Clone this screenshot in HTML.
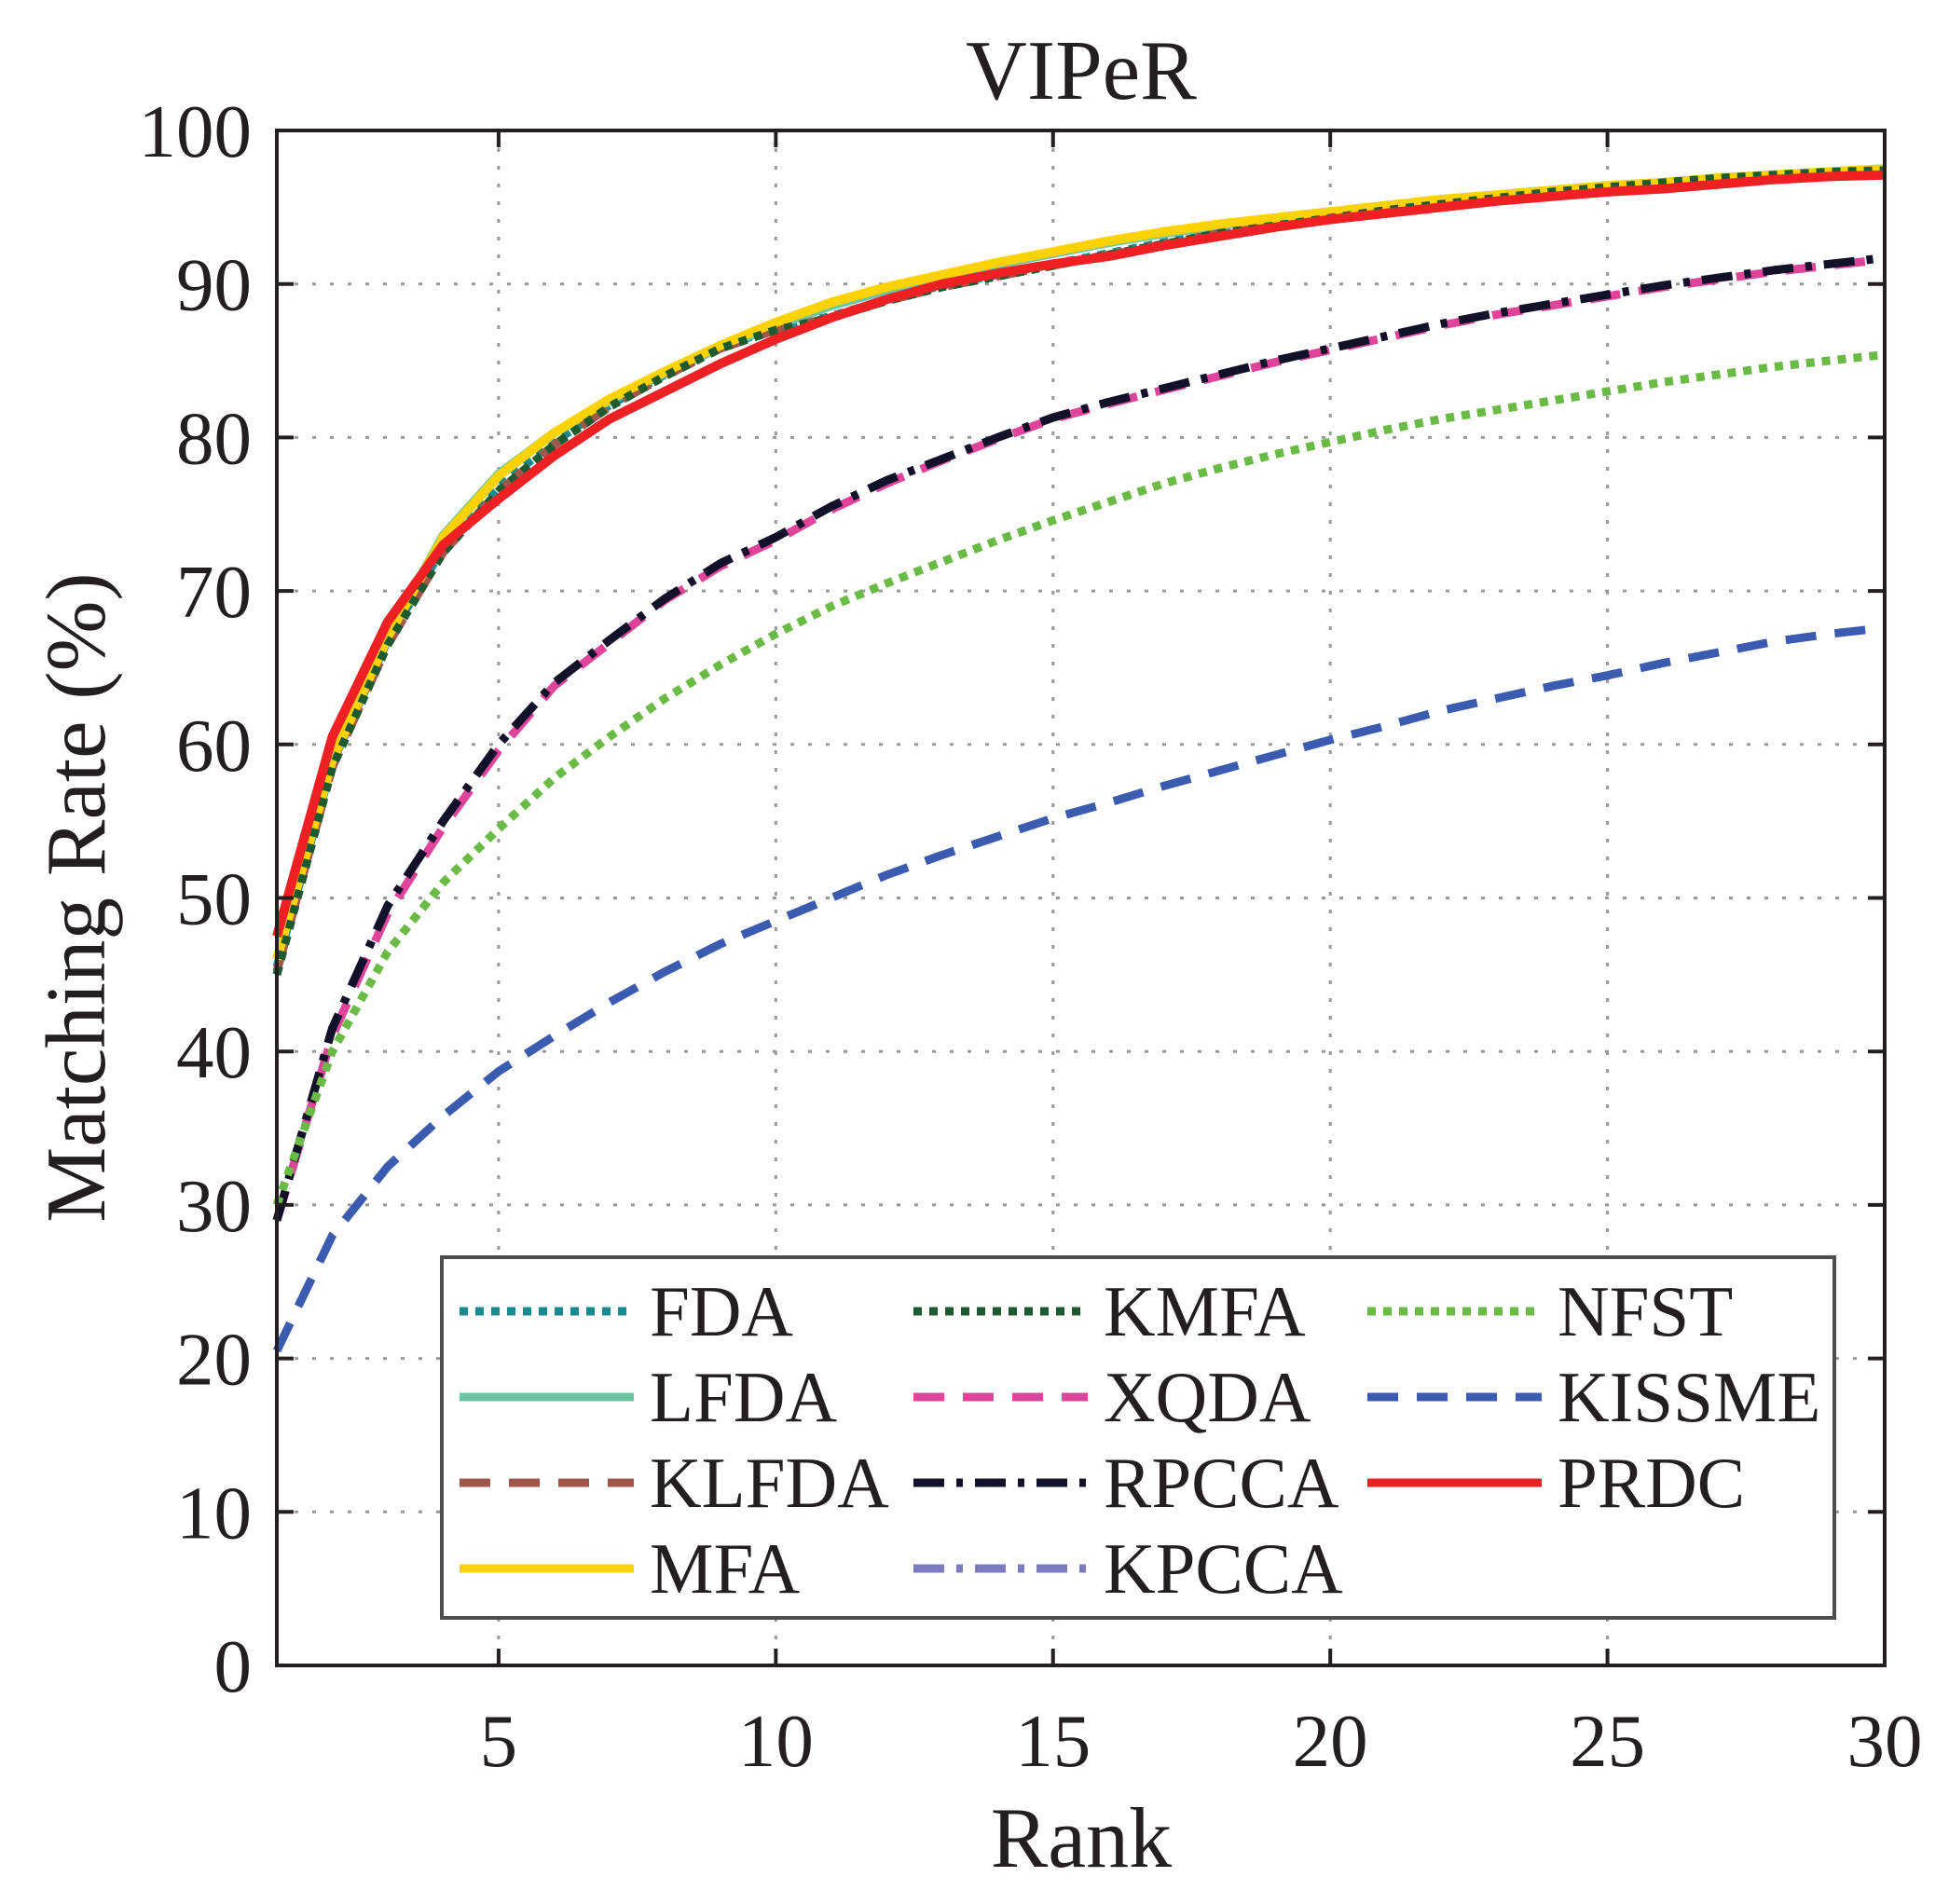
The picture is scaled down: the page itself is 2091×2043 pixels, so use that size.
<!DOCTYPE html>
<html><head><meta charset="utf-8"><style>
html,body{margin:0;padding:0;background:#fff;}
svg{display:block;font-family:"Liberation Serif",serif;}
</style></head><body>
<svg id="chart" width="2091" height="2043" viewBox="0 0 2091 2043" xmlns="http://www.w3.org/2000/svg"></svg>
<script>
const ranks=[1,2,3,4,5,6,7,8,9,10,11,12,13,14,15,16,17,18,19,20,21,22,23,24,25,26,27,28,29,30];
const xTicks=[5,10,15,20,25,30];
const yTicks=[0,10,20,30,40,50,60,70,80,90,100];
const fdaVals=[45.5,58.8,66.8,72.8,76.8,79.7,82.1,84.1,85.9,87.1,87.9,89,89.9,90.6,91.3,92,92.7,93.3,93.9,94.4,94.8,95.2,95.6,96,96.3,96.6,96.9,97.1,97.3,97.4];
const lfdaVals=[46,59,67,73.6,77.6,80.3,82.4,84.2,85.9,87.3,88.6,89.6,90.5,91.3,92,92.7,93.3,93.8,94.3,94.7,95.1,95.5,95.8,96.1,96.4,96.6,96.9,97.1,97.3,97.5];
const klfdaVals=[45.2,58.5,66.5,72.5,76.5,79.5,82,84,85.8,87,87.8,88.9,89.8,90.5,91.2,91.9,92.6,93.3,93.8,94.3,94.8,95.2,95.6,96,96.3,96.6,96.9,97.1,97.3,97.4];
const mfaVals=[46,59,67,73.5,77.5,80.3,82.5,84.3,86,87.5,88.8,89.8,90.6,91.4,92.1,92.8,93.4,93.9,94.3,94.7,95.1,95.5,95.8,96.1,96.4,96.6,96.9,97.1,97.3,97.5];
const kmfaVals=[45,58.5,66.5,72.5,76.5,79.5,82,84,85.8,87,87.8,88.9,89.8,90.5,91.2,91.9,92.6,93.3,93.8,94.3,94.8,95.2,95.6,96,96.3,96.6,96.9,97.1,97.3,97.4];
const xqdaVals=[29,41,49,54.6,59.6,63.8,66.6,69.4,71.6,73.3,75.3,77,78.5,79.9,81.2,82.2,83.1,84,84.9,85.7,86.5,87.3,88,88.6,89.2,89.8,90.3,90.8,91.2,91.6];
const rpccaVals=[29,41.5,49.5,55,60,64,66.8,69.5,71.8,73.5,75.5,77.2,78.6,80,81.3,82.3,83.2,84.1,85,85.8,86.6,87.4,88.1,88.7,89.3,89.9,90.4,90.9,91.3,91.7];
const kpccaVals=[29,41.5,49.5,55,60,64,66.8,69.5,71.8,73.5,75.5,77.2,78.6,80,81.3,82.3,83.2,84.1,85,85.8,86.6,87.4,88.1,88.7,89.3,89.9,90.4,90.9,91.3,91.7];
const nfstVals=[30,40,46.5,51,54.5,57.8,60.5,63,65.2,67.2,69,70.5,71.9,73.3,74.6,75.8,77,78,78.9,79.7,80.5,81.2,81.8,82.4,83,83.6,84.1,84.6,85,85.4];
const kissmeVals=[20.5,28,32.5,35.8,38.7,41,43.2,45.2,47,48.5,50,51.5,52.8,54,55.2,56.2,57.3,58.3,59.3,60.3,61.2,62.2,63,63.8,64.5,65.3,66,66.7,67.2,67.6];
const prdcVals=[47.5,60.5,68,73,76,78.8,81.2,83,84.8,86.4,87.8,89,90,90.7,91.3,91.8,92.5,93.1,93.7,94.2,94.6,95,95.4,95.7,96,96.2,96.5,96.8,97,97.1];

const NS="http://www.w3.org/2000/svg";
const svg=document.getElementById('chart');
const L=297,R=2022,T=140,B=1787;
const xS=v=>L+(v-1)/(30-1)*(R-L);
const yS=v=>B-v/100*(B-T);
function mk(tag,attrs,parent){const e=document.createElementNS(NS,tag);for(const k in attrs)e.setAttribute(k,attrs[k]);(parent||svg).appendChild(e);return e;}

const grid=mk('g',{});


xTicks.forEach(t=>{if(t<30){const l=mk('line',{x1:xS(t),x2:xS(t),y1:T,y2:B,stroke:'#999','stroke-width':3,'stroke-dasharray':'4 15'},grid);

}});
yTicks.forEach(t=>{if(t>0&&t<100){const l=mk('line',{x1:L,x2:R,y1:yS(t),y2:yS(t),stroke:'#999','stroke-width':3,'stroke-dasharray':'4 15'},grid);

}});

const series=[
 ['FDA',fdaVals,'#1b8a8f','9 8'],
 ['LFDA',lfdaVals,'#6cc5a5',''],
 ['KLFDA',klfdaVals,'#a0564a','33 20'],
 ['KPCCA',kpccaVals,'#7b7cc0','33 13 7 13'],
 ['XQDA',xqdaVals,'#e0449a','33 20'],
 ['MFA',mfaVals,'#fcd300',''],
 ['KMFA',kmfaVals,'#1e5a30','9 8'],
 ['RPCCA',rpccaVals,'#12112a','33 13 7 13'],
 ['NFST',nfstVals,'#6abb45','9 8'],
 ['KISSME',kissmeVals,'#3a5bb0','33 20'],
 ['PRDC',prdcVals,'#ee2024','']
];
series.forEach(s=>{
 const d=s[1].map((v,i)=>(i?'L':'M')+xS(ranks[i]).toFixed(1)+' '+yS(v).toFixed(1)).join(' ');
 const p=mk('path',{d:d,fill:'none',stroke:s[2],'stroke-width':s[3]?9:10,'stroke-dasharray':s[3]||'none','stroke-linejoin':'round'});
 
 
});

const box=mk('rect',{x:L,y:T,width:R-L,height:B-T,fill:'none',stroke:'#231f20','stroke-width':4});


xTicks.forEach(t=>{
 mk('line',{x1:xS(t),x2:xS(t),y1:B,y2:B-18,stroke:'#231f20','stroke-width':4});
 mk('line',{x1:xS(t),x2:xS(t),y1:T,y2:T+18,stroke:'#231f20','stroke-width':4});
 const tx=mk('text',{x:xS(t),y:1895,'text-anchor':'middle','font-size':81,fill:'#231f20'});
 tx.textContent=t;
 
 
});
yTicks.forEach(t=>{
 mk('line',{x1:L,x2:L+18,y1:yS(t),y2:yS(t),stroke:'#231f20','stroke-width':4});
 mk('line',{x1:R,x2:R-18,y1:yS(t),y2:yS(t),stroke:'#231f20','stroke-width':4});
 const tx=mk('text',{x:270,y:yS(t)+28,'text-anchor':'end','font-size':81,fill:'#231f20'});
 tx.textContent=t;
 
 
});

let t1=mk('text',{x:1160,y:106,'text-anchor':'middle','font-size':91,fill:'#231f20'});
t1.textContent='VIPeR';


let t2=mk('text',{x:1160,y:2003,'text-anchor':'middle','font-size':92,fill:'#231f20'});
t2.textContent='Rank';


let t3=mk('text',{x:0,y:0,'text-anchor':'middle','font-size':91,fill:'#231f20',transform:'translate(112 963) rotate(-90)'});
t3.textContent='Matching Rate (%)';



const lg=mk('g',{});


mk('rect',{x:474,y:1349,width:1494,height:387,fill:'#fff',stroke:'#4d4d4d','stroke-width':4},lg);
const legendOrder=['FDA','LFDA','KLFDA','MFA','KMFA','XQDA','RPCCA','KPCCA','NFST','KISSME','PRDC'];
const colX=[493,980,1467], rowY=[1407,1499,1591,1683];
const colCount=[4,4,3];
let idx=0;
colX.forEach((cx,c)=>{for(let r=0;r<colCount[c];r++){
 const s=series.find(q=>q[0]===legendOrder[idx]);idx++;
 const e=mk('g',{},lg);
 
 
 mk('line',{x1:cx,x2:cx+187,y1:rowY[r],y2:rowY[r],stroke:s[2],'stroke-width':9,'stroke-dasharray':s[3]||'none'},e);
 const tx=mk('text',{x:cx+204,y:rowY[r]+26,'font-size':77,fill:'#231f20'},e);
 tx.textContent=s[0];
}});
</script>
</body></html>
